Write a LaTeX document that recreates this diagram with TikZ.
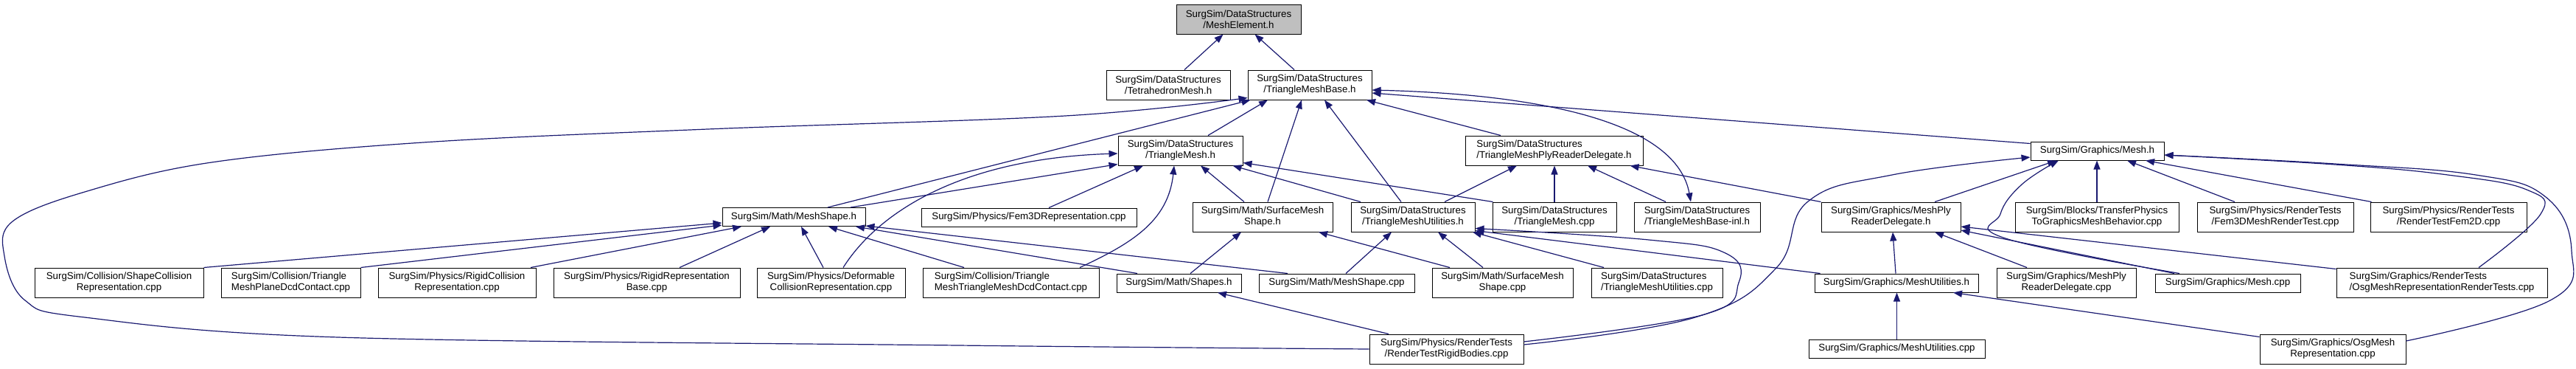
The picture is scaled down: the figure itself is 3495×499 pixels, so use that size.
\documentclass[tikz,border=0pt]{standalone}
\usepackage{fontspec}
\setmainfont{Liberation Sans}
\usetikzlibrary{arrows.meta}
\definecolor{edgec}{HTML}{191970}
\definecolor{rootc}{HTML}{BFBFBF}
\tikzset{
  box/.style={draw=black, line width=1pt, fill=white, inner sep=0pt, align=center,
              font=\fontsize{13.3}{15}\selectfont},
  sz/.style 2 args={minimum width=#1, minimum height=#2},
  e/.style={draw=edgec, line width=1.2pt, -{Triangle[length=12pt,width=9pt]}},
  e2/.style={draw=edgec, line width=1.2pt, {Triangle[length=12pt,width=9pt]}-{Triangle[length=12pt,width=9pt]}}
}
\begin{document}
\begin{tikzpicture}[x=1pt,y=-1pt]
\useasboundingbox (0,0) rectangle (3495,499);
% nodes
\node[box,sz={169}{40},fill=rootc] (me) at (1680.5,26) {SurgSim/DataStructures\\/MeshElement.h};
\node[box,sz={168}{40}] (tet) at (1585,115) {SurgSim/DataStructures\\/TetrahedronMesh.h};
\node[box,sz={168}{40}] (tmb) at (1777,115) {SurgSim/DataStructures\\/TriangleMeshBase.h};
\node[box,sz={169}{40}] (tm) at (1601.5,204) {SurgSim/DataStructures\\/TriangleMesh.h};
\node[box,sz={241}{40},align=left] (tmply) at (2108.5,204) {SurgSim/DataStructures\\/TriangleMeshPlyReaderDelegate.h};
\node[box,sz={181}{25}] (gmesh) at (2845.5,204.5) {SurgSim/Graphics/Mesh.h};
\node[box,sz={194}{25}] (mshape) at (1077,294) {SurgSim/Math/MeshShape.h};
\node[box,sz={292}{25}] (fem3d) at (1396,294.5) {SurgSim/Physics/Fem3DRepresentation.cpp};
\node[box,sz={190}{40}] (smsh) at (1713,294) {SurgSim/Math/SurfaceMesh\\Shape.h};
\node[box,sz={168}{40}] (tmu) at (1917,294) {SurgSim/DataStructures\\/TriangleMeshUtilities.h};
\node[box,sz={168}{40}] (tmcpp) at (2109,294) {SurgSim/DataStructures\\/TriangleMesh.cpp};
\node[box,sz={171}{40}] (inl) at (2302.5,294) {SurgSim/DataStructures\\/TriangleMeshBase-inl.h};
\node[box,sz={189}{40}] (gply) at (2565.5,294) {SurgSim/Graphics/MeshPly\\ReaderDelegate.h};
\node[box,sz={222}{40}] (transfer) at (2845,294) {SurgSim/Blocks/TransferPhysics\\ToGraphicsMeshBehavior.cpp};
\node[box,sz={212}{40}] (fem3dmesh) at (3087,294) {SurgSim/Physics/RenderTests\\/Fem3DMeshRenderTest.cpp};
\node[box,sz={212}{40}] (fem2d) at (3322,294) {SurgSim/Physics/RenderTests\\/RenderTestFem2D.cpp};
\node[box,sz={229}{40}] (shapecol) at (161.5,383) {SurgSim/Collision/ShapeCollision\\Representation.cpp};
\node[box,sz={189}{40},align=left] (planedcd) at (394.5,383) {SurgSim/Collision/Triangle\\MeshPlaneDcdContact.cpp};
\node[box,sz={214}{40}] (rigidcol) at (620,383) {SurgSim/Physics/RigidCollision\\Representation.cpp};
\node[box,sz={253}{40}] (rigidbase) at (877.5,383) {SurgSim/Physics/RigidRepresentation\\Base.cpp};
\node[box,sz={201}{40}] (deform) at (1127.5,383) {SurgSim/Physics/Deformable\\CollisionRepresentation.cpp};
\node[box,sz={239}{40},align=left] (tmtmdcd) at (1371.5,383) {SurgSim/Collision/Triangle\\MeshTriangleMeshDcdContact.cpp};
\node[box,sz={169}{25}] (shapes) at (1599.5,383.5) {SurgSim/Math/Shapes.h};
\node[box,sz={211}{25}] (mscpp) at (1813.5,383.5) {SurgSim/Math/MeshShape.cpp};
\node[box,sz={191}{40}] (smcpp) at (2038.5,383) {SurgSim/Math/SurfaceMesh\\Shape.cpp};
\node[box,sz={178}{40},align=left] (tmucpp) at (2248,383) {SurgSim/DataStructures\\/TriangleMeshUtilities.cpp};
\node[box,sz={222}{25}] (gmu) at (2573,383.5) {SurgSim/Graphics/MeshUtilities.h};
\node[box,sz={189}{40}] (gplycpp) at (2803.5,383) {SurgSim/Graphics/MeshPly\\ReaderDelegate.cpp};
\node[box,sz={197}{25}] (gmeshcpp) at (3022.5,383.5) {SurgSim/Graphics/Mesh.cpp};
\node[box,sz={286}{40},align=left] (osgrt) at (3313,383) {SurgSim/Graphics/RenderTests\\/OsgMeshRepresentationRenderTests.cpp};
\node[box,sz={209}{40}] (rtrb) at (1962.5,473) {SurgSim/Physics/RenderTests\\/RenderTestRigidBodies.cpp};
\node[box,sz={239}{25}] (gmucpp) at (2573.5,472.5) {SurgSim/Graphics/MeshUtilities.cpp};
\node[box,sz={198}{40}] (osgmr) at (3165,473) {SurgSim/Graphics/OsgMesh\\Representation.cpp};
% edges to MeshElement
\draw[e] ([xshift=22pt]tet.north) -- ([xshift=-21pt]me.south);
\draw[e] ([xshift=-21pt]tmb.north) -- ([xshift=22pt]me.south);
% edges to TriangleMeshBase
\draw[e] plot[smooth,tension=0.6] coordinates {(rtrb.west) (1300,468) (459,457) (115,430) (34,407) (6,347) (17,300) (115,260) (287,220) (574,193) (960,175) (1445,157) ([yshift=3pt]tmb.south west)};
\draw[e] ([xshift=46pt]mshape.north) -- ([xshift=4pt]tmb.south west);
\draw[e] ([xshift=37.5pt]tm.north) -- ([xshift=-57pt]tmb.south);
\draw[e] ([xshift=7pt]smsh.north) -- ([xshift=-11pt]tmb.south);
\draw[e] ([xshift=-16pt]tmu.north) -- ([xshift=20pt]tmb.south);
\draw[e] ([xshift=-72.5pt]tmply.north) -- ([xshift=77pt]tmb.south);
\draw[e2] ([yshift=-7pt]tmb.east) .. controls (2100,128) and (2275,168) .. ([xshift=-8.5pt]inl.north);
\draw[e] ([yshift=-3pt]gmesh.north west) -- ([yshift=-11pt]tmb.east);
% edges to TriangleMesh
\draw[e] ([xshift=77pt]mshape.north) -- ([yshift=2pt]tm.south west);
\draw[e] ([xshift=16.5pt]deform.north) .. controls (1190,290) and (1300,215) .. ([yshift=-4pt]tm.west);
\draw[e] ([xshift=27pt]fem3d.north) -- ([xshift=-50.5pt]tm.south);
\draw[e] ([xshift=93.5pt]tmtmdcd.north) .. controls (1535,330) and (1585,300) .. ([xshift=-8.5pt]tm.south);
\draw[e] ([xshift=-25pt]smsh.north) -- ([xshift=27.5pt]tm.south);
\draw[e] ([xshift=-71pt]tmu.north) -- ([xshift=-14pt]tm.south east);
\draw[e] ([xshift=1pt]tmcpp.north west) -- ([yshift=4pt]tm.south east);
% edges to MeshShape.h
\draw[e] (shapecol.north east) -- ([yshift=-8pt]mshape.west);
\draw[e] (planedcd.north east) -- ([yshift=2pt]mshape.south west);
\draw[e] ([xshift=100pt]rigidcol.north) -- ([xshift=-71pt]mshape.south);
\draw[e] ([xshift=44.5pt]rigidbase.north) -- ([xshift=-32pt]mshape.south);
\draw[e] ([xshift=-10.5pt]deform.north) -- ([xshift=10pt]mshape.south);
\draw[e] ([xshift=-63.5pt]tmtmdcd.north) -- ([xshift=47pt]mshape.south);
\draw[e] ([xshift=-56.5pt]shapes.north) -- ([xshift=84pt]mshape.south);
\draw[e] ([xshift=-66.5pt]mscpp.north) -- ([yshift=1pt]mshape.south east);
% edges to SurfaceMeshShape.h and Shapes.h
\draw[e] ([xshift=15.5pt]shapes.north) -- ([xshift=-29pt]smsh.south);
\draw[e] ([xshift=-71.5pt]smcpp.north) -- ([xshift=76pt]smsh.south);
\draw[e] ([xshift=-78.5pt]rtrb.north) -- ([xshift=52.5pt]shapes.south);
% edges to TriangleMeshUtilities.h
\draw[e] ([xshift=12.5pt]mscpp.north) -- ([xshift=-29pt]tmu.south);
\draw[e] ([xshift=-26.5pt]smcpp.north) -- ([xshift=34pt]tmu.south);
\draw[e] ([xshift=-72pt]tmucpp.north) -- ([xshift=81pt]tmu.south);
\draw[e] ([xshift=8pt]gmu.north west) -- ([yshift=2pt]tmu.south east);
\draw[e] plot[smooth,tension=0.7] coordinates {([yshift=10pt]rtrb.east) (2309,427) (2359,383) (2341,343) (2237,325) ([yshift=5pt]tmu.south east)};
% edges to TriangleMeshPlyReaderDelegate.h
\draw[e] ([xshift=43pt]tmu.north) -- ([xshift=-50.5pt]tmply.south);
\draw[e] (tmcpp.north) -- (tmcpp.north |- tmply.south);
\draw[e] ([xshift=-42.5pt]inl.north) -- ([xshift=45.5pt]tmply.south);
\draw[e] (gply.north west) -- ([xshift=-18pt]tmply.south east);
% edges to Graphics/Mesh.h
\draw[e] plot[smooth,tension=0.7] coordinates {([yshift=6pt]rtrb.east) (2300,430) (2410,363) (2453,273) (2567,237) ([yshift=-8.5pt]gmesh.west)};
\draw[e] ([xshift=59.5pt]gply.north) -- ([xshift=-55.5pt]gmesh.south);
\draw[e] (transfer.north) -- (transfer.north |- gmesh.south);
\draw[e] ([xshift=-55pt]fem3dmesh.north) -- ([xshift=40.5pt]gmesh.south);
\draw[e] ([xshift=2pt]fem2d.north west) -- ([xshift=65.5pt]gmesh.south);
\draw[e] plot[smooth,tension=0.7] coordinates {([xshift=-65.5pt]gmeshcpp.north) (2721,323) (2714,290) (2743,250) ([xshift=-52.5pt]gmesh.south)};
\draw[e] plot[smooth,tension=0.7] coordinates {([xshift=50pt]osgrt.north) (3447,290) (3428,257) (3321,237) (3168,223) ([yshift=-5.5pt]gmesh.east)};
\draw[e] plot[smooth,tension=0.7] coordinates {([yshift=11pt]osgmr.east) (3460,407) (3489,340) (3454,267) (3359,237) (3168,222) ([yshift=-5.5pt]gmesh.east)};
% edges to Graphics/MeshPlyReaderDelegate.h
\draw[e] ([xshift=-1pt]gmu.north) -- ([xshift=2.5pt]gply.south);
\draw[e] ([xshift=-53.5pt]gplycpp.north) -- ([xshift=59.5pt]gply.south);
\draw[e] ([xshift=-72.5pt]gmeshcpp.north) -- ([yshift=-18pt]gply.east);
\draw[e] ([yshift=-2pt]osgrt.north west) -- ([yshift=-13pt]gply.east);
% edges to Graphics/MeshUtilities.h
\draw[e] (gmucpp.north) -- (gmucpp.north |- gmu.south);
\draw[e] ([yshift=-4pt]osgmr.north west) -- ([xshift=77pt]gmu.south);
\end{tikzpicture}
\end{document}
